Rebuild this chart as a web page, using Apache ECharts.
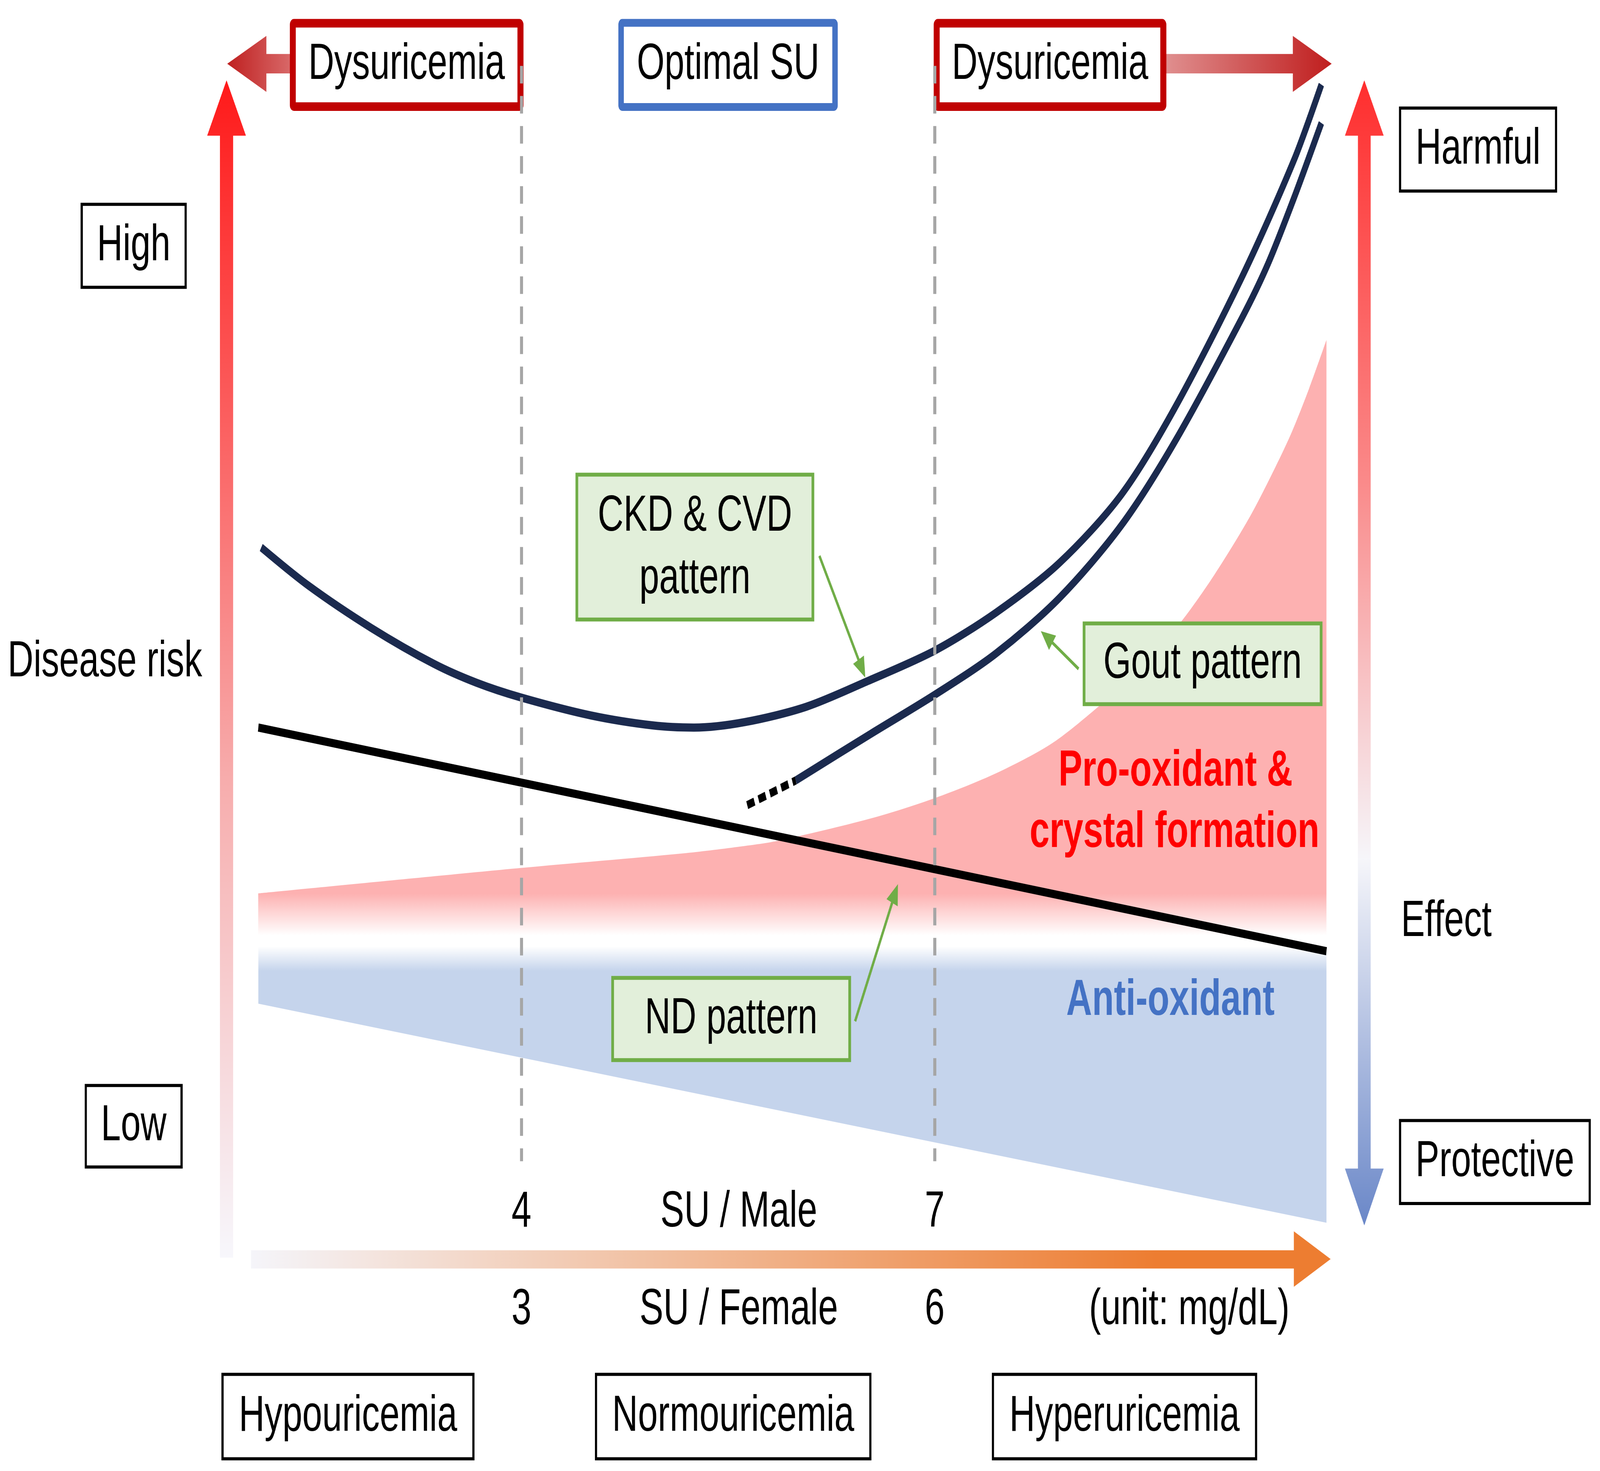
<!DOCTYPE html>
<html><head><meta charset="utf-8">
<script src="https://cdn.jsdelivr.net/npm/echarts@6/dist/echarts.min.js"></script>
<style>html,body{margin:0;padding:0;background:#fff;overflow:hidden;} #c{position:absolute;left:0;top:0;width:5858px;height:3767px;transform-origin:0 0;}</style>
</head><body><div id="c"></div>
<script>
// ---- data (x = serum urate for males, mg/dL; y = relative level) ----
const maleTicks = [4, 7];
const femaleTicks = [3, 6];
const thresholdsMale = [4, 7];
const ckdCurve = [[2.111,60.84],[2.452,57.59],[2.911,53.94],[3.363,50.88],[3.674,49.25],[3.993,48.00],[4.504,46.45],[4.956,45.59],[5.252,45.41],[5.622,45.88],[6.067,47.19],[6.511,49.38],[7.000,52.00],[7.444,55.25],[7.904,59.50],[8.356,65.38],[8.741,72.75],[9.230,84.00],[9.607,94.00],[9.807,100.50]];
const goutCurve = [[5.991,40.88],[6.537,44.88],[7.004,48.25],[7.444,51.75],[7.904,56.50],[8.356,62.75],[8.748,70.00],[9.230,80.50],[9.419,85.13],[9.607,90.75],[9.807,97.21]];
const goutDotted = [[5.639,38.76],[5.991,40.88]];
const ndLine = [[2.090,45.41],[9.844,26.25]];
const redTop = [[2.089,31.20],[3.993,33.38],[5.170,34.63],[5.570,35.19],[5.852,35.69],[6.537,37.63],[7.004,39.38],[7.447,41.50],[7.844,44.00],[8.156,46.88],[8.474,50.25],[8.782,54.38],[9.030,58.50],[9.289,63.50],[9.474,67.75],[9.593,70.75],[9.719,74.50],[9.844,78.63]];
const redBase = 27.62;
const blueBottom = [[2.090,21.75],[9.844,2.98]];
const blueBase = 26.66;

const S = 5858/1568;
const FONT = "'Liberation Sans', Arial, Helvetica, sans-serif";
const FS = 35*S;

// fit the 5858x3767 drawing into the actual viewport
const el = document.getElementById('c');
const vw = window.innerWidth || 5858, vh = window.innerHeight || 3767;
el.style.transform = 'scale(' + (vw/5858) + ',' + (vh/3767) + ')';

const chart = echarts.init(el, null, {renderer:'canvas', width:5858, height:3767});

function rectBox(x1,y1,x2,y2,lw,stroke,fill,z,r){
  return {type:'rect', z:z, silent:true,
    shape:{x:x1*S+lw/2, y:y1*S+lw/2, width:(x2-x1)*S-lw, height:(y2-y1)*S-lw, r:r||0},
    style:{fill:fill, stroke:stroke, lineWidth:lw}};
}
function label(text,cx,cy,opt){
  opt = opt||{};
  return {type:'text', z:opt.z||20, silent:true, x:cx*S, y:cy*S,
    style:{text:text, fontSize:FS, fontFamily:FONT, fontWeight:opt.bold?'bold':'normal',
      fill:opt.color||'#000', align:opt.align||'center', verticalAlign:'middle'}};
}
function poly(pts, fill, z){
  return {type:'polygon', z:z||1, silent:true, shape:{points:pts.map(p=>[p[0]*S,p[1]*S])}, style:{fill:fill}};
}
function lg(x,y,x2,y2,stops){
  return new echarts.graphic.LinearGradient(x,y,x2,y2, stops.map(s=>({offset:s[0], color:s[1]})));
}
function greenArrow(sx,sy,tx,ty){
  const dx=tx-sx, dy=ty-sy, L=Math.hypot(dx,dy), ux=dx/L, uy=dy/L, nx=-uy, ny=ux;
  const hl=14, hw=6;
  const bx=tx-ux*hl, by=ty-uy*hl;
  return [
    {type:'line', z:12, silent:true, shape:{x1:sx*S,y1:sy*S,x2:(bx+ux*2)*S,y2:(by+uy*2)*S}, style:{stroke:'#70AD47', lineWidth:8.5}},
    poly([[tx,ty],[bx+nx*hw,by+ny*hw],[bx-nx*hw,by-ny*hw]], '#70AD47', 12)
  ];
}

const graphics = [
  // big arrows
  poly([[215.5,862],[215.5,93],[203,93],[222,55],[241,93],[228.5,93],[228.5,862]],
       lg(0,0,0,1,[[0,'#FF1A1A'],[0.3,'#FB6262'],[0.6,'#F7AEAE'],[1,'#F7F7FC']]), 1),
  poly([[1337,55],[1356,93],[1343.25,93],[1343.25,801],[1356,801],[1337,840],[1318,801],[1330.75,801],[1330.75,93],[1318,93]],
       lg(0,0,0,1,[[0,'#FF2E2E'],[0.35,'#FA8A8A'],[0.68,'#F6F6FA'],[1,'#6A87C8']]), 1),
  poly([[222.7,43.7],[261,24.6],[261,37],[286,37],[286,50.3],[261,50.3],[261,63]],
       lg(0,0,1,0,[[0,'#BF2020'],[1,'#D96A6A']]), 1),
  poly([[1141,37],[1267,37],[1267,24.6],[1305,43.7],[1267,63],[1267,50.3],[1141,50.3]],
       lg(0,0,1,0,[[0,'#E09090'],[1,'#C01E1E']]), 1),
  poly([[246,857],[1268,857],[1268,844],[1304,863],[1268,882],[1268,869.5],[246,869.5]],
       lg(0,0,1,0,[[0,'#F5F5FA'],[0.84,'#ED7D31'],[1,'#ED7D31']]), 1),
  // top boxes
  rectBox(284,13,513,76,22,'#C00000','#FFFFFF',1,4), label('Dysuricemia',398.5,44.5),
  rectBox(606,13,821,76,20,'#4472C4','#FFFFFF',1,4), label('Optimal SU',713.5,44.5),
  rectBox(915,13,1143,76,22,'#C00000','#FFFFFF',1,4), label('Dysuricemia',1029,44.5),
  // black boxes
  rectBox(79,139,183,198,8,'#000','#FFFFFF',1), label('High',131,168.5),
  rectBox(83,743,179,801,8,'#000','#FFFFFF',1), label('Low',131,772),
  rectBox(1371,73,1526,132,8,'#000','#FFFFFF',1), label('Harmful',1448.5,102.5),
  rectBox(1371,767,1559,826,8,'#000','#FFFFFF',1), label('Protective',1465,796.5),
  rectBox(217,941,465,1001,8,'#000','#FFFFFF',1), label('Hypouricemia',341,971),
  rectBox(583,941,854,1001,8,'#000','#FFFFFF',1), label('Normouricemia',718.5,971),
  rectBox(972,941,1232,1001,8,'#000','#FFFFFF',1), label('Hyperuricemia',1102,971),
  // green boxes
  rectBox(564,324,798,426,10,'#70AD47','#E2EFDA',10), label('CKD & CVD',681,354), label('pattern',681,397),
  rectBox(1061,426,1296,484,10,'#70AD47','#E2EFDA',10), label('Gout pattern',1178.5,455),
  rectBox(599,669,834,728,10,'#70AD47','#E2EFDA',10), label('ND pattern',716.5,698.5),
  ...greenArrow(803,381,848,464.5),
  ...greenArrow(1057,458.5,1020,432.6),
  ...greenArrow(838,700,880,606),
  // free texts
  label('Disease risk',7.5,454,{align:'left'}),
  label('Effect',1373,632,{align:'left'}),
  label('SU / Male',724,831),
  label('SU / Female',724,898),
  label('(unit: mg/dL)',1165.5,898),
  label('Pro-oxidant &',1152,529,{bold:true,color:'#FF0000'}),
  label('crystal formation',1151,571,{bold:true,color:'#FF0000'}),
  label('Anti-oxidant',1147,686,{bold:true,color:'#4472C4'})
];

const gridBox = {left:241*S, width:1080*S, top:22*S, height:840*S};
const hiddenAxisBase = {axisLine:{show:false,onZero:false}, axisTick:{show:false}, splitLine:{show:false}};

const option = {
  animation:false,
  backgroundColor:'#FFFFFF',
  grid:[Object.assign({}, gridBox), Object.assign({}, gridBox)],
  xAxis:[
    Object.assign({type:'value', gridIndex:0, min:2, max:10, interval:1, position:'bottom',
      axisLabel:{inside:true, margin:13.5*S, fontSize:FS, fontFamily:FONT, color:'#000',
        formatter:v=>maleTicks.includes(v)?String(v):''}}, hiddenAxisBase),
    Object.assign({type:'value', gridIndex:1, min:1, max:9, interval:1, position:'bottom',
      axisLabel:{margin:18.5*S, fontSize:FS, fontFamily:FONT, color:'#000',
        formatter:v=>femaleTicks.includes(v)?String(v):''}}, hiddenAxisBase)
  ],
  yAxis:[
    {type:'value', gridIndex:0, min:0, max:105, show:false},
    {type:'value', gridIndex:1, min:0, max:105, show:false}
  ],
  graphic: graphics,
  series:[
    {name:'Pro-oxidant', type:'line', z:2, data:redTop, smooth:0.3, symbol:'none', lineStyle:{width:0, opacity:0},
      areaStyle:{origin:redBase, opacity:1, color:{type:'linear', x:0, y:612.4*S, x2:0, y2:641*S, global:true,
        colorStops:[{offset:0,color:'#FDB1B1'},{offset:1,color:'#FFFFFF'}]}}},
    {name:'Anti-oxidant', type:'line', z:2, data:blueBottom, symbol:'none', lineStyle:{width:0, opacity:0},
      areaStyle:{origin:blueBase, opacity:1, color:{type:'linear', x:0, y:648.7*S, x2:0, y2:665.6*S, global:true,
        colorStops:[{offset:0,color:'#FFFFFF'},{offset:1,color:'#C5D4EC'}]}}},
    {name:'ND pattern', type:'line', z:3, data:ndLine, symbol:'none', lineStyle:{color:'#000000', width:21},
      markLine:{silent:true, symbol:['none','none'], label:{show:false},
        lineStyle:{color:'#A6A6A6', width:11, type:[45,32]},
        data: thresholdsMale.map(t=>[{coord:[t,102.1]},{coord:[t,8.25]}])}},
    {name:'CKD & CVD pattern', type:'line', z:3, data:ckdCurve, smooth:0.3, symbol:'none', lineStyle:{color:'#1B2A4E', width:21}},
    {name:'Gout pattern', type:'line', z:3, data:goutCurve, smooth:0.3, symbol:'none', lineStyle:{color:'#1B2A4E', width:21}},
    {name:'Gout pattern (extrapolated)', type:'line', z:3, data:goutDotted, symbol:'none', lineStyle:{color:'#000000', width:21, type:[28,16]}}
  ]
};
chart.setOption(option);
</script></body></html>
